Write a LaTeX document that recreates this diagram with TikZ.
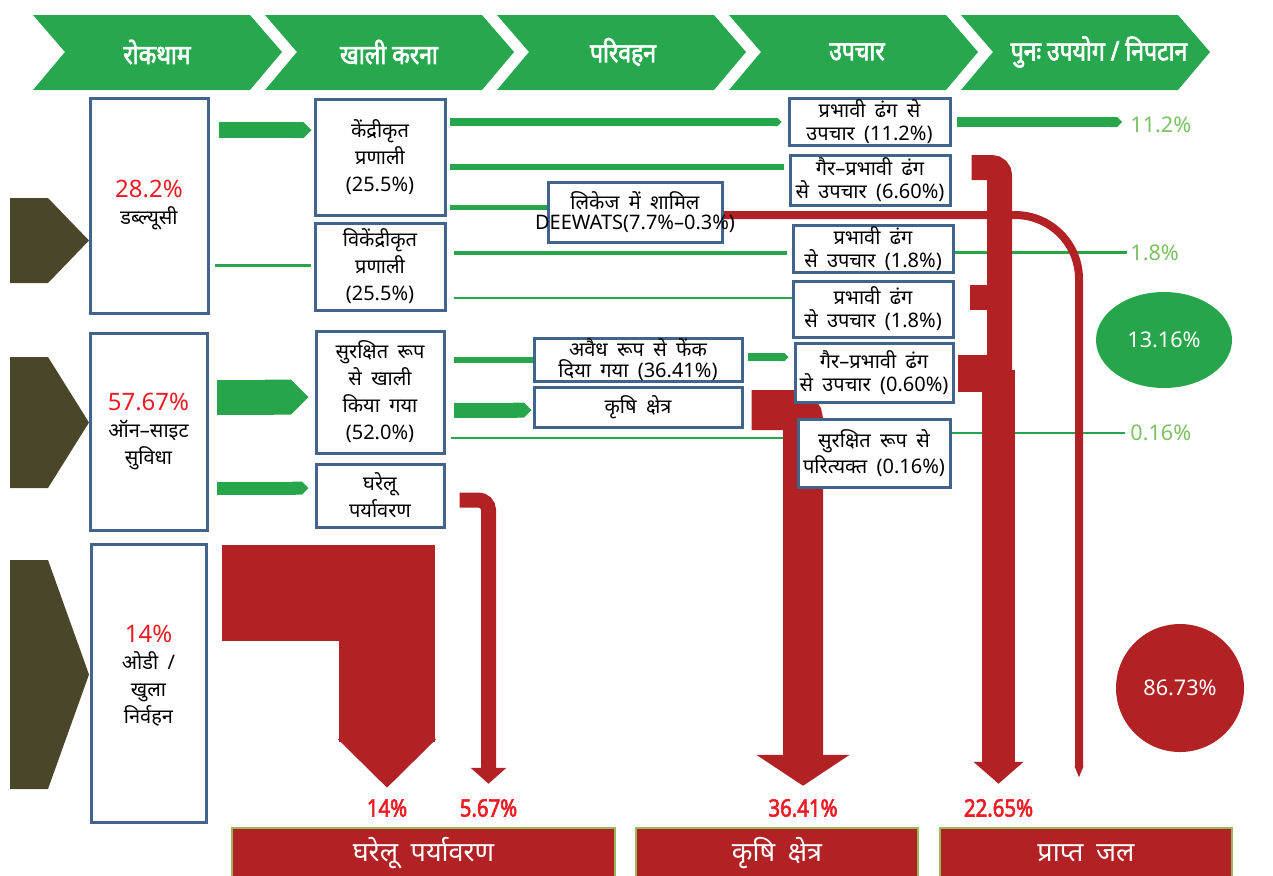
\documentclass[tikz,border=0pt]{standalone}
\usepackage{fontspec}
\setmainfont[Script=Devanagari,WordSpace=1.8]{Noto Sans}
\newfontfamily\narrowfont[Script=Devanagari,FakeStretch=0.85,FakeBold=2.5]{Noto Sans}
\usetikzlibrary{arrows.meta,shapes.geometric}
\definecolor{hgreen}{RGB}{40,168,78}
\definecolor{fgreen}{RGB}{38,165,75}
\definecolor{lgreen}{RGB}{122,194,98}
\definecolor{fred}{RGB}{178,34,37}
\definecolor{tred}{RGB}{237,28,36}
\definecolor{dolive}{RGB}{74,70,42}
\definecolor{bblue}{RGB}{66,99,140}
\definecolor{bgreen}{RGB}{150,185,90}
\pgfdeclarelayer{flows}
\pgfsetlayers{flows,main}
\begin{document}
\begin{tikzpicture}[x=0.5pt,y=-0.5pt,
  box/.style={draw=bblue,line width=1.5pt,fill=white,align=center,inner sep=0pt,font=\fontsize{10}{13.5}\selectfont},
  tbox/.style={box,font=\fontsize{10}{11.5}\selectfont},
  gflow/.style={draw=fgreen},
  gtip/.style={-{Triangle Cap}},
  rflow/.style={draw=fred},
  pct/.style={text=tred,inner sep=0pt,font=\narrowfont\fontsize{12}{14}\selectfont},
  glab/.style={text=lgreen,anchor=west,inner sep=0pt,font=\fontsize{10.8}{12}\selectfont},
  outbox/.style={fill=fred,draw=bgreen,line width=0.8pt,text=white,inner sep=0pt,font=\fontsize{13.5}{15}\selectfont}]
\useasboundingbox (0,0) rectangle (1273,875);
\foreach \i/\txt/\tx in {0/रोकथाम/124,1/खाली करना/124,2/परिवहन/126,3/उपचार/128,4/{पुनः उपयोग / निपटान}/138}{
  \fill[hgreen] (33+232*\i,15) -- ++(217,0) -- ++(32,37) -- ++(-32,38) -- ++(-217,0) -- ++(32,-38) -- cycle;
  \node[text=white,font=\narrowfont\fontsize{13.5}{15}\selectfont] (h\i) at (33+232*\i+\tx,52) {\txt};
}
\foreach \t/\b in {198/283,357/488,560/789}
  \fill[dolive] (10,\t) -- (48,\t) -- (89,{(\t+\b)/2}) -- (48,\b) -- (10,\b) -- cycle;

\node[box,minimum width=59pt,minimum height=107.5pt] (wuc) at (149,205.5) {\textcolor{tred}{\fontsize{12}{14}\selectfont 28.2\%}\\डब्ल्यूसी};
\node[box,minimum width=58.5pt,minimum height=98.5pt] (onsite) at (148.5,431.5) {\textcolor{tred}{\fontsize{12}{14}\selectfont 57.67\%}\\ऑन–साइट\\सुविधा};
\node[box,minimum width=57.5pt,minimum height=139pt] (odi) at (148.5,683) {\textcolor{tred}{\fontsize{12}{14}\selectfont 14\%}\\ओडी /\\खुला\\निर्वहन\\[-5pt]};
\node[box,minimum width=65pt,minimum height=58pt] (central) at (380,157) {केंद्रीकृत\\प्रणाली\\(25.5\%)};
\node[box,minimum width=65pt,minimum height=43.5pt] (decentral) at (380,266.5) {विकेंद्रीकृत\\प्रणाली\\(25.5\%)};
\node[box,minimum width=64pt,minimum height=61pt] (safeempty) at (380,392) {सुरक्षित रूप\\से खाली\\किया गया\\(52.0\%)};
\node[box,minimum width=64pt,minimum height=31.5pt] (homeenv) at (380,495.5) {घरेलू\\पर्यावरण};
\node[tbox,minimum width=87pt,minimum height=30pt,font=\fontsize{10}{10}\selectfont] (leak) at (635,212) {लिकेज में शामिल\\\makebox[0pt]{DEEWATS(7.7\%–0.3\%)}};
\node[tbox,minimum width=104pt,minimum height=20pt,font=\fontsize{10}{10.5}\selectfont] (illegal) at (638,360) {अवैध रूप से फेंक\\दिया गया (36.41\%)};
\node[tbox,minimum width=104pt,minimum height=20pt] (agri) at (638,407) {कृषि क्षेत्र};
\node[tbox,minimum width=80.5pt,minimum height=23.5pt] (eff1) at (869.5,121.5) {प्रभावी ढंग से\\उपचार (11.2\%)};
\node[tbox,minimum width=80pt,minimum height=25pt] (ineff1) at (870,180) {गैर–प्रभावी ढंग\\से उपचार (6.60\%)};
\node[tbox,minimum width=80pt,minimum height=23.5pt] (eff2) at (873,248.5) {प्रभावी ढंग\\से उपचार (1.8\%)};
\node[tbox,minimum width=80pt,minimum height=28pt] (eff3) at (873,309) {प्रभावी ढंग\\से उपचार (1.8\%)};
\node[tbox,minimum width=79pt,minimum height=29.5pt] (ineff2) at (874,372.5) {गैर–प्रभावी ढंग\\से उपचार (0.60\%)};
\node[tbox,minimum width=76pt,minimum height=34pt] (safeab) at (874,453) {सुरक्षित रूप से\\परित्यक्त (0.16\%)};

\node[glab] (l112) at (1130,125) {11.2\%};
\node[glab] (l18) at (1130,253) {1.8\%};
\node[glab] (l016) at (1130,433) {0.16\%};
\node[ellipse,fill=fgreen,text=white,minimum width=68pt,minimum height=48pt,font=\fontsize{10.8}{12}\selectfont] (sum1316) at (1164,340) {13.16\%};
\node[circle,fill=fred,text=white,minimum size=64pt,font=\fontsize{10.8}{12}\selectfont] (sum8673) at (1180,688) {86.73\%};

\node[pct] (p14) at (387,808) {14\%};
\node[pct] (p567) at (488.5,808) {5.67\%};
\node[pct] (p3641) at (803,808) {36.41\%};
\node[pct] (p2265) at (998.5,808) {22.65\%};
\node[outbox,minimum width=191.5pt,minimum height=25pt] (outhome) at (423.5,853) {घरेलू पर्यावरण};
\node[outbox,minimum width=141pt,minimum height=25pt] (outagri) at (777,853) {कृषि क्षेत्र};
\node[outbox,minimum width=146pt,minimum height=25pt] (outwater) at (1086,853) {प्राप्त जल};
\coordinate (leakend) at (1079,778);

\begin{pgfonlayer}{flows}
\draw[gflow,line width=8pt,gtip,shorten <=4.5pt,shorten >=1pt] (wuc.east|-0,130) -- (central.west|-0,130);
\draw[gflow,line width=1.5pt,shorten <=2.5pt,shorten >=1.5pt] (wuc.east|-0,265) -- (decentral.west|-0,265);
\draw[gflow,line width=4pt,gtip,shorten <=1.5pt,shorten >=3pt] (central.east|-0,122) -- (eff1.west|-0,122);
\draw[gflow,line width=3pt,shorten <=1.5pt,shorten >=2.5pt] (central.east|-0,167) -- (ineff1.west|-0,167);
\draw[gflow,line width=2.5pt,shorten <=1.5pt] (central.east|-0,207) -- (leak.west|-0,207);
\draw[gflow,line width=2pt,shorten <=3.5pt,shorten >=2.5pt] (decentral.east|-0,253) -- (eff2.west|-0,253);
\draw[gflow,line width=1.2pt,shorten <=3.5pt] (decentral.east|-0,298) -- (eff3.west|-0,298);
\draw[gflow,line width=17.5pt,gtip,shorten <=4pt,shorten >=3pt] (onsite.east|-0,397) -- (safeempty.west|-0,397);
\draw[gflow,line width=6.5pt,gtip,shorten <=4pt,shorten >=3pt] (onsite.east|-0,488) -- (homeenv.west|-0,488);
\draw[gflow,line width=3pt,shorten <=4pt] (safeempty.east|-0,360) -- (illegal.west|-0,360);
\draw[gflow,line width=7.5pt,gtip,shorten <=4pt,shorten >=0.5pt] (safeempty.east|-0,410) -- (agri.west|-0,410);
\draw[gflow,line width=1pt,shorten <=2.5pt] (safeempty.east|-0,438) -- (safeab.west|-0,438);
\draw[gflow,line width=4pt,gtip,shorten <=2pt,shorten >=2.5pt] (illegal.east|-0,357) -- (ineff2.west|-0,357);
\draw[gflow,line width=5pt,gtip,shorten <=2.5pt,shorten >=4pt] (eff1.east|-0,122) -- (l112.west|-0,122);
\draw[gflow,line width=1.5pt,shorten >=1.5pt] (eff2.east|-0,252) -- (l18.west|-0,252);
\draw[gflow,line width=1.2pt,shorten >=2.5pt] (safeab.east|-0,433) -- (l016.west|-0,433);

\draw[rflow,line width=48pt,-{Triangle[width=48pt,length=24.5pt]},shorten <=7pt,shorten >=5.5pt] (odi.east|-0,592.5) -| (p14.north);
\draw[rflow,line width=7.5pt,rounded corners=5pt,-{Triangle[width=17.5pt,length=8pt]},shorten <=7pt,shorten >=7.5pt] (homeenv.east|-0,500) -| (p567.north);
\draw[rflow,line width=20pt,rounded corners=5pt,-{Triangle[width=46pt,length=15.5pt]},shorten <=4pt,shorten >=6.5pt] (agri.east|-0,410) -| (p3641.north);
\draw[rflow,line width=4pt,rounded corners=32pt,-{Triangle[width=4pt,length=6pt]}] (leak.east|-0,215) -- (leakend|-0,215) -- (leakend);
\draw[rflow,line width=12.5pt,rounded corners=4pt,shorten <=10pt] (ineff1.east|-0,167.5) -| (999.5,392);
\fill[fred] (970,285) rectangle (990,310);
\fill[fred] (958,355) rectangle (990,392);
\draw[rflow,line width=16.5pt,-{Triangle[width=24.5pt,length=11pt]},shorten >=7.5pt] (998.5,370) -- (p2265.north);
\end{pgfonlayer}
\end{tikzpicture}
\end{document}
